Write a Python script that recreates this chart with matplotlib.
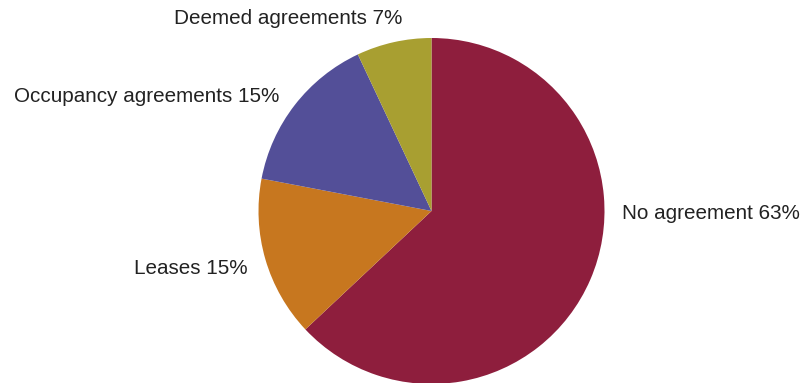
import matplotlib
matplotlib.use("Agg")
import matplotlib.pyplot as plt

categories = ["No agreement", "Leases", "Occupancy agreements", "Deemed agreements"]
values = [63, 15, 15, 7]
colors = ["#8E1E3D", "#C7771F", "#534F98", "#A89F31"]

W, H = 804, 383
fig = plt.figure(figsize=(W / 100, H / 100), dpi=100)
ax = fig.add_axes([0, 0, 1, 1])

cx, cy, r = 431.5, H - 211, 173
ax.pie(values, colors=colors, startangle=90, counterclock=False,
       center=(cx, cy), radius=r, frame=True,
       wedgeprops=dict(linewidth=0))
ax.set_xlim(0, W)
ax.set_ylim(0, H)
ax.set_aspect("equal")
ax.axis("off")

label_pos = [
    (622, H - 214, "left"),
    (248, H - 268, "right"),
    (279, H - 96, "right"),
    (402, H - 19, "right"),
]
for cat, v, (x, y, ha) in zip(categories, values, label_pos):
    ax.text(x, y, f"{cat} {v}%", ha=ha, va="center", fontsize=14.9,
            family="Liberation Sans", color="#222222")

fig.savefig("out.png", dpi=100)
